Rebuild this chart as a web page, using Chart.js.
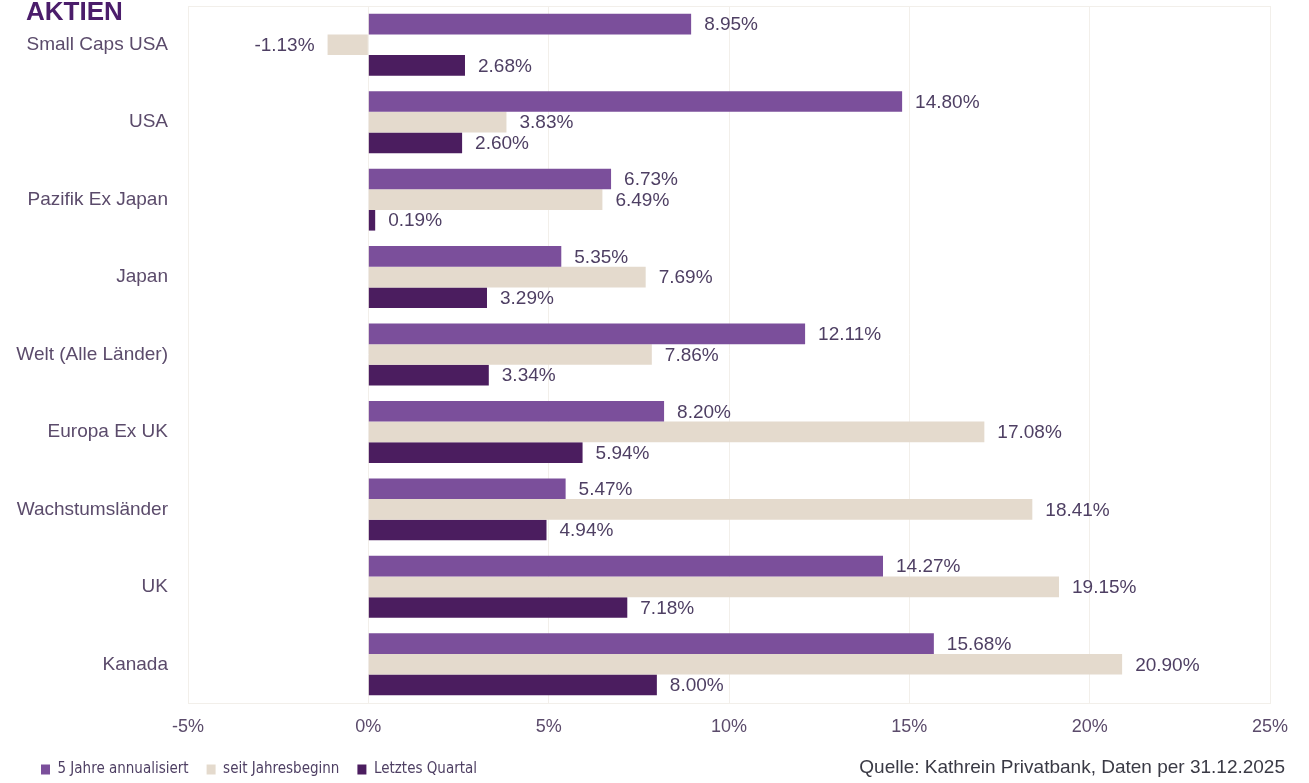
<!DOCTYPE html>
<html lang="de">
<head>
<meta charset="utf-8">
<title>Aktien</title>
<script src="https://cdn.jsdelivr.net/npm/chart.js@4.4.1/dist/chart.umd.min.js"></script>
<style>
  html, body { margin: 0; padding: 0; background: #ffffff; }
  #wrap { width: 1309px; height: 783px; position: relative; }
</style>
</head>
<body>
<div id="wrap"><canvas id="aktienChart"></canvas></div>
<script>
const categories = ['Small Caps USA', 'USA', 'Pazifik Ex Japan', 'Japan', 'Welt (Alle Länder)',
    'Europa Ex UK', 'Wachstumsländer', 'UK', 'Kanada'];
const fuenfJahre = [8.95, 14.80, 6.73, 5.35, 12.11, 8.20, 5.47, 14.27, 15.68];
const seitJahresbeginn = [-1.13, 3.83, 6.49, 7.69, 7.86, 17.08, 18.41, 19.15, 20.90];
const letztesQuartal = [2.68, 2.60, 0.19, 3.29, 3.34, 5.94, 4.94, 7.18, 8.00];
const seriesNames = ['5 Jahre annualisiert', 'seit Jahresbeginn', 'Letztes Quartal'];
const xTicks = [-5, 0, 5, 10, 15, 20, 25];

const textColor = '#5b4b6b';
const gridColor = '#f2efea';

// value labels next to the bar ends
const valueLabels = {
    id: 'valueLabels',
    afterDatasetsDraw(chart) {
        const ctx = chart.ctx;
        ctx.save();
        ctx.font = '19px "Liberation Sans", Arial, sans-serif';
        ctx.fillStyle = '#4e3f63';
        ctx.textBaseline = 'middle';
        chart.data.datasets.forEach((ds, i) => {
            chart.getDatasetMeta(i).data.forEach((bar, j) => {
                const v = ds.data[j];
                const txt = v.toFixed(2) + '%';
                if (v < 0) {
                    ctx.textAlign = 'right';
                    ctx.fillText(txt, bar.x - 13, bar.y + 1);
                } else {
                    ctx.textAlign = 'left';
                    ctx.fillText(txt, bar.x + 13, bar.y + 1);
                }
            });
        });
        ctx.restore();
    }
};

// frame, title, source line, and legend moved in a bit
const extras = {
    id: 'extras',
    afterLayout(chart) {
        if (chart.legend) chart.legend.left = 23;
    },
    beforeDatasetsDraw(chart) {
        const a = chart.chartArea;
        const ctx = chart.ctx;
        ctx.save();
        ctx.strokeStyle = gridColor;
        ctx.lineWidth = 1;
        ctx.strokeRect(a.left + 0.5, a.top + 0.5, a.right - a.left, a.bottom - a.top);
        ctx.restore();
    },
    afterDraw(chart) {
        const ctx = chart.ctx;
        ctx.save();
        ctx.font = 'bold 26px "Liberation Sans", Arial, sans-serif';
        ctx.fillStyle = '#4b1d6b';
        ctx.textBaseline = 'middle';
        ctx.textAlign = 'left';
        ctx.fillText('AKTIEN', 26, 13);

        ctx.font = '19px "Liberation Sans", Arial, sans-serif';
        ctx.fillStyle = '#3a3a45';
        ctx.textAlign = 'right';
        ctx.fillText('Quelle: Kathrein Privatbank, Daten per 31.12.2025', 1285, 768);
        ctx.restore();
    }
};

const ctx = document.getElementById('aktienChart').getContext('2d');
const chart = new Chart(ctx, {
    type: 'bar',
    data: {
        labels: categories,
        datasets: [
            { label: seriesNames[0], data: fuenfJahre, backgroundColor: '#7b4f9b' },
            { label: seriesNames[1], data: seitJahresbeginn, backgroundColor: '#e4dacd' },
            { label: seriesNames[2], data: letztesQuartal, backgroundColor: '#4b1d5f' }
        ]
    },
    options: {
        indexAxis: 'y',
        responsive: true,
        maintainAspectRatio: false,
        animation: false,
        datasets: {
            bar: { barPercentage: 1.0, categoryPercentage: 0.8 }
        },
        layout: { padding: { left: 0, right: 39, top: 6, bottom: -4 } },
        scales: {
            x: {
                min: -5,
                max: 25,
                afterBuildTicks: scale => {
                    scale.ticks = xTicks.map(v => ({ value: v }));
                },
                afterFit: scale => { scale.height = 41; },
                grid: { color: gridColor, drawTicks: false },
                border: { display: false },
                ticks: {
                    padding: 13,
                    color: textColor,
                    font: { family: '"Liberation Sans", Arial, sans-serif', size: 18 },
                    callback: v => v + '%'
                }
            },
            y: {
                afterFit: scale => {
                    scale.width = 188;
                    scale.paddingTop = 0;
                    scale.paddingBottom = 0;
                },
                grid: { display: false, drawTicks: false },
                border: { display: false },
                ticks: {
                    padding: 20,
                    color: textColor,
                    font: { family: '"Liberation Sans", Arial, sans-serif', size: 19 }
                }
            }
        },
        plugins: {
            legend: {
                position: 'bottom',
                align: 'start',
                labels: {
                    boxWidth: 9,
                    boxHeight: 10,
                    padding: 18,
                    color: '#4e3f63',
                    font: { family: '"DejaVu Sans Condensed", "Liberation Sans Narrow", "Liberation Sans", sans-serif', size: 15 }
                }
            },
            tooltip: { enabled: false }
        }
    },
    plugins: [valueLabels, extras]
});
</script>
</body>
</html>
